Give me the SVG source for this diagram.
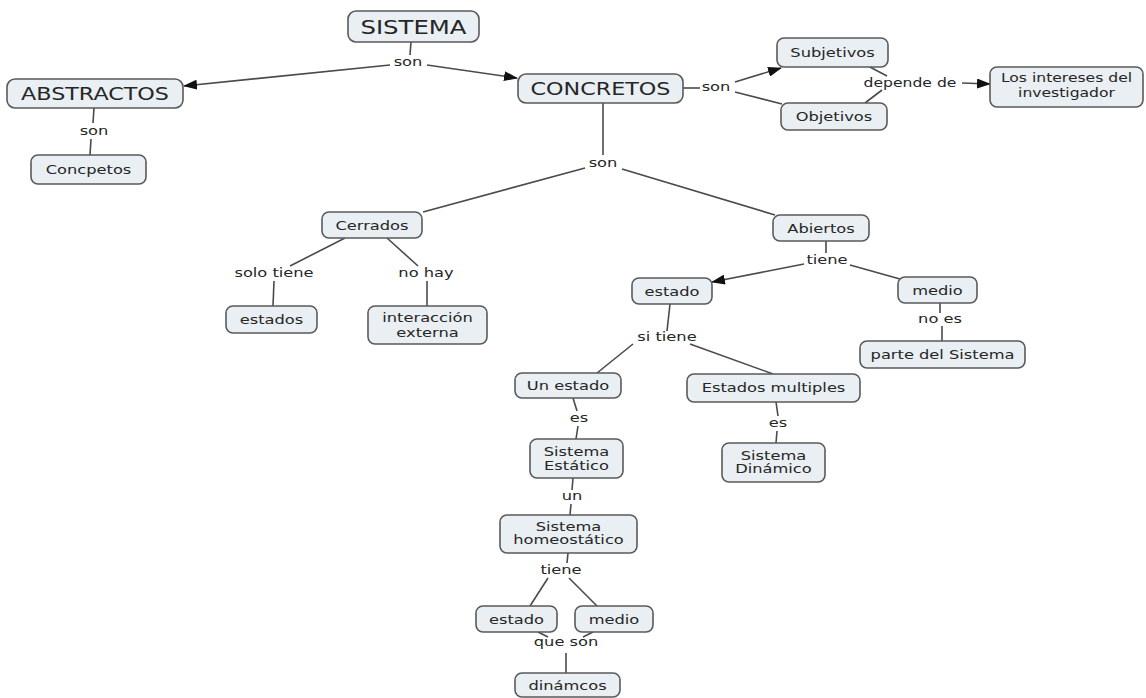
<svg xmlns="http://www.w3.org/2000/svg" width="1146" height="698" viewBox="0 0 1146 698">
<style>
.box{fill:#e9eff2;stroke:#5a5a5a;stroke-width:1.6}
text{font-family:"DejaVu Sans","Liberation Sans",sans-serif;fill:#262626;text-anchor:middle}
.s{font-size:13px}
.b{font-size:17.8px}
.bb{font-size:19.5px}
.ln{stroke:#4a4a4a;stroke-width:1.6;fill:none}
.ar{stroke:#4a4a4a;stroke-width:1.6;fill:none;marker-end:url(#ah)}
</style>
<defs>
<marker id="ah" markerUnits="userSpaceOnUse" markerWidth="14" markerHeight="10" refX="13" refY="5" orient="auto">
<path d="M0,0 L14,5 L0,10 Z" fill="#111"/>
</marker>
</defs>
<rect width="1146" height="698" fill="#fff"/>
<g id="connectors">
<path class="ln" d="M411,42 L410,55"/>
<path class="ar" d="M390,65 L184,86"/>
<path class="ar" d="M427,65 L517,78"/>
<path class="ln" d="M94,108 L93,123"/>
<path class="ln" d="M91,139 L90,155"/>
<path class="ln" d="M683,88 L700,88"/>
<path class="ar" d="M735,82 L781,68"/>
<path class="ln" d="M735,92 L782,104"/>
<path class="ln" d="M868,66 L887,76"/>
<path class="ln" d="M865,103 L882,90"/>
<path class="ar" d="M962,83 L990,84"/>
<path class="ln" d="M603,103 L603,155"/>
<path class="ln" d="M585,168 L423,212"/>
<path class="ln" d="M622,169 L775,215"/>
<path class="ln" d="M345,238 L290,266"/>
<path class="ln" d="M274,281 L273,306"/>
<path class="ln" d="M387,238 L418,266"/>
<path class="ln" d="M427,281 L427,306"/>
<path class="ln" d="M826,241 L826,253"/>
<path class="ar" d="M804,264 L712,282"/>
<path class="ln" d="M850,265 L900,279"/>
<path class="ln" d="M940,303 L940,313"/>
<path class="ln" d="M942,326 L942,341"/>
<path class="ln" d="M670,304 L667,331"/>
<path class="ln" d="M633,344 L597,373"/>
<path class="ln" d="M690,344 L773,374"/>
<path class="ln" d="M573,398 L577,411"/>
<path class="ln" d="M578,426 L576,439"/>
<path class="ln" d="M776,402 L778,416"/>
<path class="ln" d="M777,431 L776,443"/>
<path class="ln" d="M573,478 L572,490"/>
<path class="ln" d="M571,504 L570,515"/>
<path class="ln" d="M568,553 L567,563"/>
<path class="ln" d="M548,578 L530,606"/>
<path class="ln" d="M569,578 L597,606"/>
<path class="ln" d="M538,632 L548,637"/>
<path class="ln" d="M593,632 L583,637"/>
<path class="ln" d="M566,653 L566,673"/>
</g>
<g id="labels">
<text class="s" transform="translate(408,66) scale(1.25,1)">son</text>
<text class="s" transform="translate(94,135) scale(1.25,1)">son</text>
<text class="s" transform="translate(716,91) scale(1.25,1)">son</text>
<text class="s" transform="translate(910,87) scale(1.2,1)">depende de</text>
<text class="s" transform="translate(603,167) scale(1.25,1)">son</text>
<text class="s" transform="translate(274,277) scale(1.25,1)">solo tiene</text>
<text class="s" transform="translate(426,277) scale(1.25,1)">no hay</text>
<text class="s" transform="translate(827,264) scale(1.25,1)">tiene</text>
<text class="s" transform="translate(940,323) scale(1.25,1)">no es</text>
<text class="s" transform="translate(667,341) scale(1.25,1)">si tiene</text>
<text class="s" transform="translate(579,422) scale(1.25,1)">es</text>
<text class="s" transform="translate(778,427) scale(1.25,1)">es</text>
<text class="s" transform="translate(572,500) scale(1.25,1)">un</text>
<text class="s" transform="translate(561,574) scale(1.25,1)">tiene</text>
<text class="s" transform="translate(566,646) scale(1.25,1)">que son</text>
</g>
<g id="n-sistema"><rect class="box" x="348" y="11" width="131" height="31" rx="8"/><text class="bb" transform="translate(413.5,33.5) scale(1.25,1)">SISTEMA</text></g>
<g id="n-abstractos"><rect class="box" x="7" y="79" width="176" height="29" rx="8"/><text class="b" transform="translate(95,100) scale(1.25,1)">ABSTRACTOS</text></g>
<g id="n-concpetos"><rect class="box" x="31" y="155" width="115" height="29" rx="7"/><text class="s" transform="translate(88.5,174) scale(1.25,1)">Concpetos</text></g>
<g id="n-concretos"><rect class="box" x="518" y="74" width="165" height="29" rx="8"/><text class="b" transform="translate(600.5,95) scale(1.25,1)">CONCRETOS</text></g>
<g id="n-subjetivos"><rect class="box" x="777" y="38" width="111" height="29" rx="7"/><text class="s" transform="translate(832.5,57) scale(1.25,1)">Subjetivos</text></g>
<g id="n-objetivos"><rect class="box" x="781" y="103" width="106" height="27" rx="7"/><text class="s" transform="translate(834,121) scale(1.25,1)">Objetivos</text></g>
<g id="n-intereses"><rect class="box" x="990" y="67" width="153" height="40" rx="7"/><text class="s" transform="translate(1066.5,82) scale(1.2,1)">Los intereses del</text><text class="s" transform="translate(1066.5,97) scale(1.2,1)">investigador</text></g>
<g id="n-cerrados"><rect class="box" x="322" y="212" width="100" height="26" rx="7"/><text class="s" transform="translate(372,229.5) scale(1.25,1)">Cerrados</text></g>
<g id="n-abiertos"><rect class="box" x="773" y="215" width="96" height="26" rx="7"/><text class="s" transform="translate(821,232.5) scale(1.25,1)">Abiertos</text></g>
<g id="n-estados"><rect class="box" x="226" y="306" width="91" height="27" rx="7"/><text class="s" transform="translate(271.5,324) scale(1.25,1)">estados</text></g>
<g id="n-interaccion"><rect class="box" x="368" y="306" width="119" height="38" rx="7"/><text class="s" transform="translate(427.5,322) scale(1.25,1)">interacción</text><text class="s" transform="translate(427.5,337) scale(1.25,1)">externa</text></g>
<g id="n-estado"><rect class="box" x="632" y="278" width="80" height="26" rx="7"/><text class="s" transform="translate(672,295.5) scale(1.25,1)">estado</text></g>
<g id="n-medio"><rect class="box" x="898" y="277" width="79" height="26" rx="7"/><text class="s" transform="translate(937.5,294.5) scale(1.25,1)">medio</text></g>
<g id="n-parte"><rect class="box" x="860" y="341" width="165" height="27" rx="7"/><text class="s" transform="translate(942.5,359) scale(1.25,1)">parte del Sistema</text></g>
<g id="n-unestado"><rect class="box" x="515" y="373" width="106" height="25" rx="7"/><text class="s" transform="translate(568,390) scale(1.25,1)">Un estado</text></g>
<g id="n-multiples"><rect class="box" x="687" y="374" width="173" height="28" rx="7"/><text class="s" transform="translate(773.5,392) scale(1.25,1)">Estados multiples</text></g>
<g id="n-estatico"><rect class="box" x="530" y="439" width="93" height="39" rx="7"/><text class="s" transform="translate(576.5,456) scale(1.25,1)">Sistema</text><text class="s" transform="translate(576.5,470) scale(1.25,1)">Estático</text></g>
<g id="n-dinamico"><rect class="box" x="722" y="443" width="103" height="39" rx="7"/><text class="s" transform="translate(773.5,460) scale(1.25,1)">Sistema</text><text class="s" transform="translate(773.5,473) scale(1.25,1)">Dinámico</text></g>
<g id="n-homeostatico"><rect class="box" x="500" y="515" width="137" height="38" rx="7"/><text class="s" transform="translate(568.5,531) scale(1.25,1)">Sistema</text><text class="s" transform="translate(568.5,544) scale(1.25,1)">homeostático</text></g>
<g id="n-estado2"><rect class="box" x="476" y="606" width="81" height="26" rx="7"/><text class="s" transform="translate(516.5,623.5) scale(1.25,1)">estado</text></g>
<g id="n-medio2"><rect class="box" x="575" y="606" width="78" height="26" rx="7"/><text class="s" transform="translate(614,623.5) scale(1.25,1)">medio</text></g>
<g id="n-dinamcos"><rect class="box" x="515" y="673" width="105" height="24" rx="7"/><text class="s" transform="translate(567.5,689.5) scale(1.25,1)">dinámcos</text></g>
</svg>
